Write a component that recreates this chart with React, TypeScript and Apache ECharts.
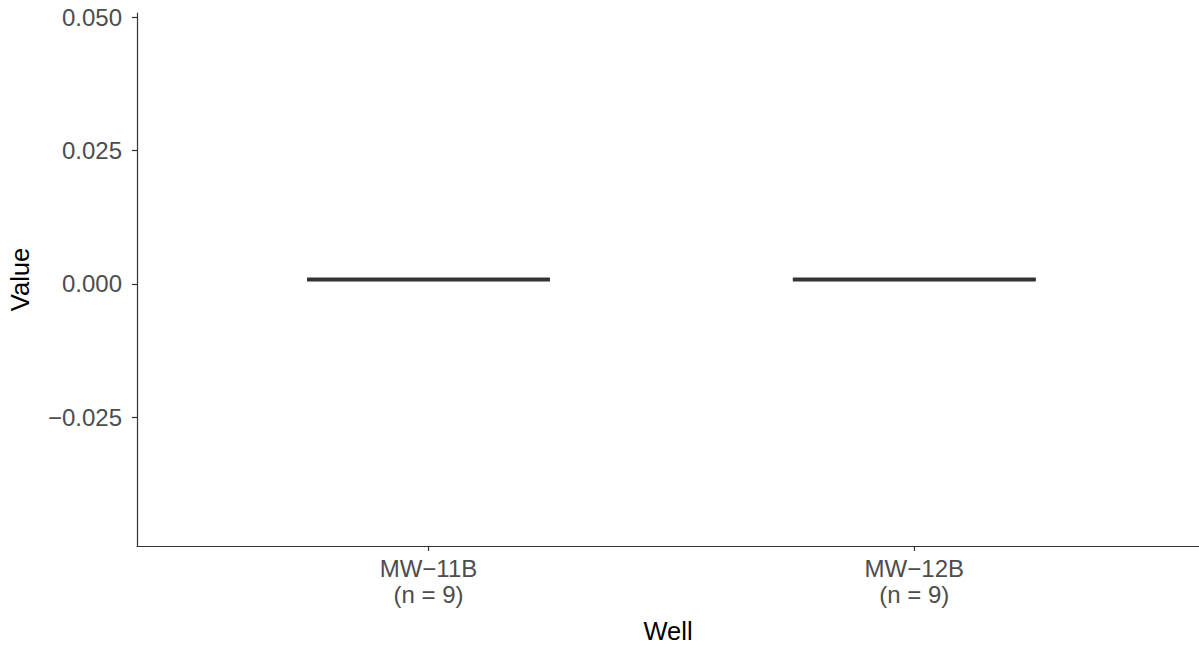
import React, { useEffect, useRef } from "react";
import * as echarts from "echarts";

const wells = ["MW\u221211B", "MW\u221212B"];
const counts = [9, 9];
const mins = [0.0008, 0.0008];
const q1s = [0.0008, 0.0008];
const medians = [0.0008, 0.0008];
const q3s = [0.0008, 0.0008];
const maxs = [0.0008, 0.0008];
const yTicks = [-0.025, 0, 0.025, 0.05];
const xPositions = [1, 2];

const FONT = "'Liberation Sans', Arial, Helvetica, sans-serif";

export default function App() {
  const ref = useRef<HTMLDivElement>(null);
  useEffect(() => {
    if (!ref.current) return;
    const chart = echarts.init(ref.current, undefined, { renderer: "svg" });
    const data = xPositions.map((x, i) => [x, mins[i], q1s[i], medians[i], q3s[i], maxs[i]]);
    const option: any = {
      animation: false,
      backgroundColor: "#ffffff",
      textStyle: { fontFamily: FONT },
      grid: { left: 137, right: 0, top: 13, bottom: 100, containLabel: false, outerBoundsMode: "none" },
      xAxis: {
        type: "value",
        min: 0.4,
        max: 2.586,
        name: "Well",
        nameLocation: "middle",
        nameGap: 72,
        nameTextStyle: { color: "#000000", fontSize: 25.5, fontFamily: FONT },
        axisLine: { show: true, onZero: false, lineStyle: { color: "#333333", width: 1.2 } },
        axisTick: { show: true, length: 5, customValues: xPositions, lineStyle: { color: "#333333", width: 1.2 } },
        axisLabel: {
          show: true,
          customValues: xPositions,
          margin: 9,
          color: "#4d4d4d",
          fontSize: 24,
          lineHeight: 26,
          fontFamily: FONT,
          formatter: (v: number) => {
            const i = xPositions.indexOf(Math.round(v));
            return i >= 0 ? `${wells[i]}\n(n = ${counts[i]})` : "";
          },
        },
        splitLine: { show: false },
      },
      yAxis: {
        type: "value",
        min: -0.0492,
        max: 0.0508,
        name: "Value",
        nameLocation: "middle",
        nameGap: 104,
        nameRotate: 90,
        nameTextStyle: { color: "#000000", fontSize: 25.5, fontFamily: FONT },
        axisLine: { show: true, onZero: false, lineStyle: { color: "#333333", width: 1.2 } },
        axisTick: { show: true, length: 5, customValues: yTicks, lineStyle: { color: "#333333", width: 1.2 } },
        axisLabel: {
          show: true,
          customValues: yTicks,
          margin: 15,
          color: "#4d4d4d",
          fontSize: 24,
          fontFamily: FONT,
          formatter: (v: number) => (v < 0 ? "\u2212" : "") + Math.abs(v).toFixed(3),
        },
        splitLine: { show: false },
      },
      series: [
        {
          type: "custom",
          data,
          renderItem: (params: any, api: any) => {
            const x = api.value(0);
            const mn = api.value(1);
            const q1 = api.value(2);
            const md = api.value(3);
            const q3 = api.value(4);
            const mx = api.value(5);
            const left = api.coord([x - 0.25, q3]);
            const right = api.coord([x + 0.25, q1]);
            const c = api.coord([x, md]);
            const pMin = api.coord([x, mn]);
            const pMax = api.coord([x, mx]);
            const pQ1 = api.coord([x, q1]);
            const pQ3 = api.coord([x, q3]);
            const stroke = "#333333";
            return {
              type: "group",
              children: [
                {
                  type: "line",
                  shape: { x1: pQ3[0], y1: pQ3[1], x2: pMax[0], y2: pMax[1] },
                  style: { stroke, lineWidth: 1.3 },
                },
                {
                  type: "line",
                  shape: { x1: pQ1[0], y1: pQ1[1], x2: pMin[0], y2: pMin[1] },
                  style: { stroke, lineWidth: 1.3 },
                },
                {
                  type: "rect",
                  shape: {
                    x: left[0],
                    y: left[1],
                    width: right[0] - left[0],
                    height: right[1] - left[1],
                  },
                  style: { fill: "#ffffff", stroke, lineWidth: 1.3 },
                },
                {
                  type: "line",
                  shape: { x1: left[0], y1: c[1], x2: right[0], y2: c[1] },
                  style: { stroke, lineWidth: 4, lineCap: "butt" },
                },
              ],
            };
          },
        },
      ],
    };
    chart.setOption(option);
    return () => chart.dispose();
  }, []);
  return (
    <div
      ref={ref}
      style={{ position: "fixed", left: 0, top: 0, width: 1199, height: 646, background: "#fff" }}
    />
  );
}
